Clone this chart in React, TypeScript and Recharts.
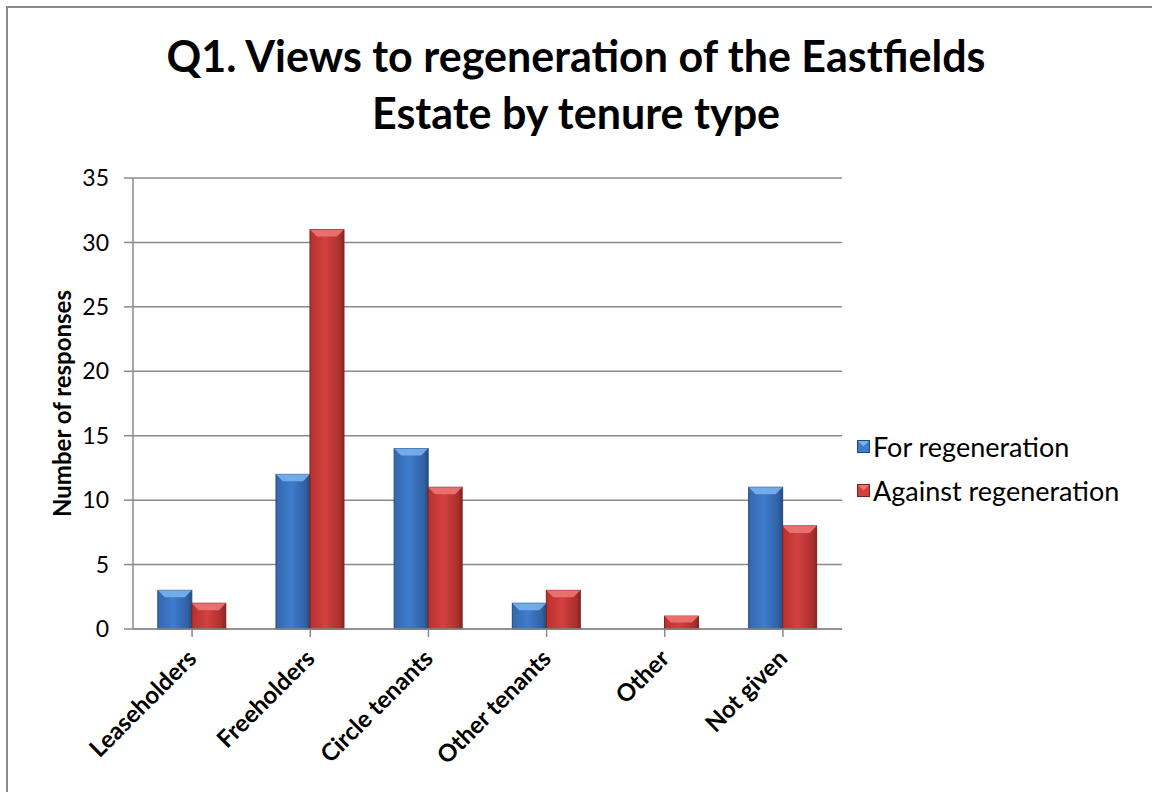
import React from "react";
import { BarChart, Bar, XAxis, YAxis, CartesianGrid, Legend, Label } from "recharts";

const categories = ["Leaseholders", "Freeholders", "Circle tenants", "Other tenants", "Other", "Not given"];
const forRegeneration = [3, 12, 14, 2, 0, 11];
const againstRegeneration = [2, 31, 11, 3, 1, 8];
const yTicks = [0, 5, 10, 15, 20, 25, 30, 35];
const seriesNames = ["For regeneration", "Against regeneration"];

const data = categories.map((c, i) => ({
  name: c,
  forReg: forRegeneration[i],
  againstReg: againstRegeneration[i],
}));

const FONT = "Lato, 'Open Sans', sans-serif";
const GRID = "#8a8a8a";

const palettes: Record<string, { l: string; m: string; r: string; top: string; stroke: string }> = {
  blue: { l: "#3567ad", m: "#3f7ccc", r: "#2b5a98", top: "#79b1ee", stroke: "#23497a" },
  red: { l: "#b8312d", m: "#d3413f", r: "#a02b28", top: "#ec7574", stroke: "#7e2220" },
};

const makeShape = (key: string) => (props: any) => {
  const { x, y, width, height } = props;
  if (!height || height <= 0) return <g />;
  const p = palettes[key];
  const b = Math.min(7, height / 2, width / 3);
  return (
    <g>
      <rect x={x} y={y} width={width} height={height} fill={`url(#grad-${key})`} stroke={p.stroke} strokeWidth={1} />
      <polygon
        points={`${x},${y} ${x + width},${y} ${x + width - b},${y + b} ${x + b},${y + b}`}
        fill={p.top}
        opacity={0.9}
      />
      <polygon
        points={`${x + width},${y} ${x + width},${y + height} ${x + width - 3},${y + height} ${x + width - 3},${y + 3}`}
        fill={p.stroke}
        opacity={0.35}
      />
    </g>
  );
};

const BlueShape = makeShape("blue");
const RedShape = makeShape("red");

const LegendIcon = ({ k }: { k: string }) => {
  const p = palettes[k];
  return (
    <svg width={13} height={13} style={{ marginRight: 3, flex: "none" }}>
      <rect x={0.5} y={0.5} width={12} height={12} fill={p.m} stroke={p.stroke} />
      <polygon points="1,1 12,1 6.5,6.5" fill={p.top} />
    </svg>
  );
};

const renderLegend = () => (
  <div style={{ paddingLeft: 15, fontFamily: FONT, fontSize: 27, color: "#000" }}>
    {seriesNames.map((n, i) => (
      <div key={n} style={{ height: 44, display: "flex", alignItems: "center", whiteSpace: "nowrap" }}>
        <LegendIcon k={i === 0 ? "blue" : "red"} />
        <span>{n}</span>
      </div>
    ))}
  </div>
);

const XTick = (props: any) => {
  const { x, y, payload } = props;
  const px = x + 6;
  const py = y + 21;
  return (
    <text
      x={px}
      y={py}
      transform={`rotate(-45 ${px} ${py})`}
      textAnchor="end"
      fontFamily={FONT}
      fontWeight="bold"
      fontSize={24}
      fill="#000"
    >
      {payload.value}
    </text>
  );
};

export default function App() {
  return (
    <div style={{ position: "absolute", left: 0, top: 0, width: 1152, height: 792, overflow: "hidden", background: "#fff" }}>
      <div
        style={{
          position: "absolute",
          left: 6,
          top: 6,
          width: 1160,
          height: 820,
          border: "2px solid #8a8a8a",
        }}
      />
      <div
        style={{
          position: "absolute",
          left: 0,
          top: 27,
          width: 1152,
          textAlign: "center",
          fontFamily: FONT,
          fontWeight: "bold",
          fontSize: 43,
          lineHeight: "57px",
          color: "#000",
        }}
      >
        <div>Q1. Views to regeneration of the Eastfields</div>
        <div>Estate by tenure type</div>
      </div>
      <div style={{ position: "absolute", left: 0, top: 0 }}>
        <BarChart
          width={1152}
          height={792}
          data={data}
          margin={{ top: 178, right: 20, bottom: 63, left: 83 }}
          barCategoryGap="21%"
          barGap={0}
        >
          <defs>
            {Object.keys(palettes).map((k) => (
              <linearGradient key={k} id={`grad-${k}`} x1="0" y1="0" x2="1" y2="0">
                <stop offset="0%" stopColor={palettes[k].l} />
                <stop offset="45%" stopColor={palettes[k].m} />
                <stop offset="100%" stopColor={palettes[k].r} />
              </linearGradient>
            ))}
          </defs>
          <CartesianGrid vertical={false} stroke={GRID} strokeWidth={1.5} />
          <XAxis
            dataKey="name"
            interval={0}
            tick={<XTick />}
            tickSize={8}
            height={100}
            axisLine={{ stroke: GRID, strokeWidth: 1.5 }}
            tickLine={{ stroke: GRID, strokeWidth: 1.5 }}
          />
          <YAxis
            domain={[0, 35]}
            ticks={yTicks}
            width={50}
            tickSize={9}
            tickMargin={15}
            axisLine={{ stroke: GRID, strokeWidth: 1.5 }}
            tickLine={{ stroke: GRID, strokeWidth: 1.5 }}
            tick={{ fontFamily: FONT, fontSize: 23, fill: "#000" }}
          >
            <Label
              content={(p: any) => {
                const vb = p.viewBox;
                const cx = 61;
                const cy = vb.y + vb.height / 2;
                return (
                  <text
                    x={cx}
                    y={cy}
                    transform={`rotate(-90 ${cx} ${cy})`}
                    textAnchor="middle"
                    dominantBaseline="central"
                    fontFamily={FONT}
                    fontWeight="bold"
                    fontSize={24}
                    fill="#000"
                  >
                    Number of responses
                  </text>
                );
              }}
            />
          </YAxis>
          <Legend
            layout="vertical"
            align="right"
            verticalAlign="middle"
            content={renderLegend}
            wrapperStyle={{ top: 424, right: 20, width: 290 }}
          />
          <Bar dataKey="forReg" name={seriesNames[0]} fill="#3f7ccc" shape={<BlueShape />} isAnimationActive={false} />
          <Bar dataKey="againstReg" name={seriesNames[1]} fill="#d3413f" shape={<RedShape />} isAnimationActive={false} />
        </BarChart>
      </div>
    </div>
  );
}
